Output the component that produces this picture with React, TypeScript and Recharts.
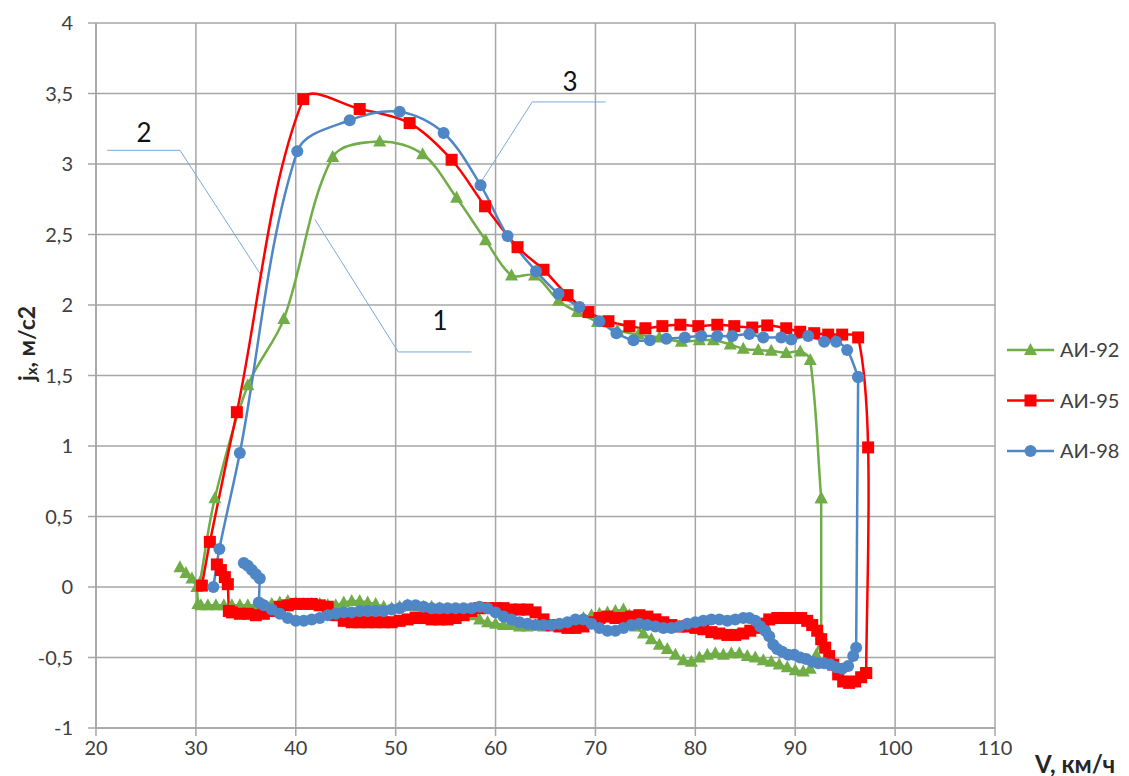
import React from 'react';
import {
  LineChart, Line, XAxis, YAxis, CartesianGrid, Legend, ReferenceLine, ReferenceDot, Label,
} from 'recharts';

// [V km/h, jx m/s2]
// acceleration branch (sparse points, smoothed)
const ai92Up: [number, number][] = [
  [30.4, 0.03], [31.9, 0.63], [35.2, 1.43], [38.8, 1.9], [43.7, 3.05], [48.4, 3.16], [52.7, 3.07],
  [56.1, 2.76], [59.0, 2.46], [61.6, 2.21], [63.9, 2.21], [66.3, 2.03], [68.2, 1.95], [70.2, 1.88],
  [72.2, 1.82], [74.3, 1.79], [76.4, 1.77], [78.6, 1.74], [80.4, 1.75], [81.8, 1.75], [83.5, 1.72],
  [84.8, 1.69], [86.3, 1.68], [87.6, 1.675], [89.1, 1.66], [90.5, 1.67], [91.5, 1.61], [92.6, 0.63],
];
const ai95Up: [number, number][] = [
  [30.6, 0.01], [31.4, 0.32], [34.1, 1.24], [40.75, 3.46], [46.4, 3.39], [51.4, 3.29], [55.6, 3.03],
  [58.95, 2.7], [62.2, 2.41], [64.8, 2.25], [67.2, 2.07], [69.3, 1.95], [71.3, 1.885], [73.4, 1.85],
  [75.0, 1.835], [76.7, 1.85], [78.5, 1.86], [80.3, 1.85], [82.2, 1.86], [83.9, 1.85], [85.7, 1.84],
  [87.2, 1.855], [89.1, 1.835], [90.5, 1.81], [91.9, 1.8], [93.3, 1.79], [94.7, 1.79], [96.3, 1.77],
  [97.3, 0.99], [97.1, -0.61],
];
const ai98Up: [number, number][] = [
  [31.75, 0.0], [32.35, 0.27], [34.4, 0.95], [40.15, 3.09], [45.4, 3.31], [50.4, 3.37], [54.8, 3.22],
  [58.5, 2.85], [61.2, 2.49], [64.05, 2.24], [66.3, 2.08], [68.4, 1.985], [70.4, 1.885], [72.1, 1.8],
  [73.8, 1.75], [75.45, 1.75], [77.1, 1.76], [78.95, 1.77], [80.6, 1.78], [82.2, 1.78], [83.7, 1.78],
  [85.4, 1.795], [86.8, 1.77], [88.6, 1.77], [89.6, 1.755], [91.3, 1.78], [92.9, 1.74], [94.1, 1.74],
  [95.2, 1.68], [96.3, 1.49],
];

// coasting branch (dense points, right to left)
const ai92Down: [number, number][] = [
  [92.6, 0.63], [92.6, -0.34], [92.1, -0.48], [91.5, -0.58], [90.8, -0.6], [90.0, -0.59], [89.2, -0.57],
  [88.4, -0.55], [87.6, -0.53], [86.8, -0.52], [86.0, -0.5], [85.2, -0.49], [84.4, -0.47], [83.6, -0.47],
  [82.8, -0.48], [82.0, -0.47], [81.2, -0.48], [80.4, -0.5], [79.6, -0.53], [78.8, -0.52], [78.0, -0.48],
  [77.2, -0.44], [76.4, -0.41], [75.6, -0.37], [74.8, -0.33], [74.0, -0.28], [73.4, -0.2], [72.8, -0.16],
  [72.0, -0.17], [71.2, -0.18], [70.4, -0.19], [69.6, -0.2], [68.8, -0.22], [68.0, -0.24], [67.2, -0.26],
  [66.4, -0.27], [65.6, -0.28], [64.8, -0.28], [64.0, -0.27], [63.2, -0.28], [62.4, -0.28], [61.6, -0.27],
  [60.8, -0.27], [60.0, -0.26], [59.2, -0.25], [58.4, -0.23], [57.6, -0.2], [56.8, -0.18], [56.0, -0.17],
  [55.2, -0.16], [54.4, -0.15], [53.6, -0.14], [52.8, -0.14], [52.0, -0.14], [51.2, -0.13], [50.4, -0.14],
  [49.6, -0.15], [48.8, -0.14], [48.0, -0.12], [47.2, -0.11], [46.4, -0.1], [45.6, -0.1], [44.8, -0.11],
  [44.0, -0.13], [43.2, -0.13], [42.4, -0.12], [41.6, -0.12], [40.8, -0.12], [40.0, -0.11], [39.2, -0.1],
  [38.4, -0.11], [37.6, -0.12], [36.8, -0.13], [36.0, -0.13], [35.2, -0.13], [34.4, -0.13], [33.6, -0.13],
  [32.8, -0.13], [32.0, -0.13], [31.2, -0.13], [30.5, -0.13], [30.2, -0.12], [30.1, 0.0], [29.6, 0.06],
  [29.0, 0.1], [28.4, 0.14],
];
const ai95Down: [number, number][] = [
  [97.1, -0.61], [96.6, -0.64], [96.0, -0.67], [95.4, -0.68], [94.8, -0.67], [94.3, -0.62], [93.8, -0.55],
  [93.4, -0.49], [93.0, -0.43], [92.6, -0.37], [92.2, -0.31], [91.7, -0.27], [91.2, -0.24], [90.6, -0.22],
  [89.8, -0.22], [89.0, -0.22], [88.2, -0.22], [87.4, -0.23], [86.8, -0.26], [86.2, -0.29], [85.5, -0.31],
  [84.8, -0.33], [84.0, -0.34], [83.2, -0.34], [82.4, -0.33], [81.6, -0.32], [80.8, -0.3], [80.0, -0.29],
  [79.2, -0.28], [78.4, -0.28], [77.6, -0.27], [76.8, -0.25], [76.0, -0.23], [75.2, -0.21], [74.4, -0.2],
  [73.6, -0.21], [72.8, -0.22], [72.0, -0.22], [71.2, -0.21], [70.4, -0.22], [69.6, -0.25], [68.8, -0.28],
  [68.0, -0.29], [67.2, -0.29], [66.4, -0.28], [65.6, -0.27], [64.8, -0.23], [64.0, -0.18], [63.2, -0.16],
  [62.4, -0.16], [61.6, -0.16], [60.8, -0.15], [60.0, -0.15], [59.2, -0.15], [58.4, -0.15], [57.6, -0.17],
  [56.8, -0.2], [56.0, -0.22], [55.2, -0.23], [54.4, -0.23], [53.6, -0.23], [52.8, -0.22], [52.0, -0.22],
  [51.2, -0.23], [50.4, -0.24], [49.6, -0.25], [48.8, -0.25], [48.0, -0.25], [47.2, -0.25], [46.4, -0.25],
  [45.6, -0.25], [44.8, -0.24], [44.0, -0.2], [43.2, -0.14], [42.4, -0.13], [41.6, -0.12], [40.8, -0.12],
  [40.0, -0.12], [39.2, -0.13], [38.4, -0.14], [37.6, -0.17], [36.8, -0.19], [36.0, -0.2], [35.2, -0.19],
  [34.4, -0.19], [33.6, -0.18], [33.3, -0.17], [33.2, 0.02], [32.9, 0.07], [32.5, 0.12], [32.1, 0.16],
];
const ai98Down: [number, number][] = [
  [96.3, 1.49], [96.1, -0.43], [95.8, -0.49], [95.3, -0.56], [94.7, -0.58], [94.1, -0.57], [93.5, -0.55],
  [92.9, -0.54], [92.3, -0.54], [91.7, -0.53], [91.1, -0.51], [90.5, -0.5], [89.9, -0.48], [89.3, -0.48],
  [88.7, -0.46], [88.2, -0.44], [87.8, -0.41], [87.4, -0.35], [87.0, -0.31], [86.5, -0.28], [86.0, -0.24],
  [85.4, -0.22], [84.8, -0.22], [84.0, -0.23], [83.2, -0.24], [82.4, -0.23], [81.6, -0.23], [80.8, -0.24],
  [80.0, -0.25], [79.2, -0.26], [78.4, -0.28], [77.6, -0.29], [76.8, -0.29], [76.0, -0.28], [75.2, -0.27],
  [74.4, -0.26], [73.6, -0.27], [72.8, -0.29], [72.0, -0.31], [71.2, -0.31], [70.4, -0.29], [69.6, -0.26],
  [68.8, -0.23], [68.0, -0.23], [67.2, -0.25], [66.4, -0.26], [65.6, -0.27], [64.8, -0.27], [64.0, -0.27],
  [63.2, -0.26], [62.4, -0.25], [61.6, -0.23], [60.8, -0.21], [60.0, -0.18], [59.2, -0.15], [58.4, -0.14],
  [57.6, -0.15], [56.8, -0.15], [56.0, -0.15], [55.2, -0.15], [54.4, -0.15], [53.6, -0.15], [52.8, -0.14],
  [52.0, -0.13], [51.2, -0.13], [50.4, -0.15], [49.6, -0.16], [48.8, -0.17], [48.0, -0.17], [47.2, -0.17],
  [46.4, -0.17], [45.6, -0.18], [44.8, -0.18], [44.0, -0.19], [43.2, -0.2], [42.4, -0.22], [41.6, -0.23],
  [40.8, -0.24], [40.0, -0.24], [39.2, -0.22], [38.4, -0.19], [37.6, -0.16], [36.8, -0.13], [36.3, -0.11],
  [36.4, 0.06], [36.0, 0.09], [35.6, 0.12], [35.2, 0.15], [34.8, 0.17],
];

const xTicks = [20, 30, 40, 50, 60, 70, 80, 90, 100, 110];
const yTicks = [-1, -0.5, 0, 0.5, 1, 1.5, 2, 2.5, 3, 3.5, 4];

// callout numbers and their leader lines
const callouts = [
  { text: '1', at: [54.45, 1.89], leader: [[57.6, 1.667], [50.26, 1.667], [41.92, 2.606]] },
  { text: '2', at: [24.8, 3.22], leader: [[21.13, 3.097], [28.41, 3.097], [36.75, 2.187]] },
  { text: '3', at: [67.45, 3.58], leader: [[71.02, 3.44], [63.67, 3.44], [58.44, 2.861]] },
];

type Shape = 'triangle' | 'square' | 'circle';

const series: { name: string; color: string; shape: Shape; up: [number, number][]; down: [number, number][] }[] = [
  { name: 'АИ-92', color: '#70ad47', shape: 'triangle', up: ai92Up, down: ai92Down },
  { name: 'АИ-95', color: '#ff0000', shape: 'square', up: ai95Up, down: ai95Down },
  { name: 'АИ-98', color: '#4f86c6', shape: 'circle', up: ai98Up, down: ai98Down },
];

const toRows = (pts: [number, number][]) => pts.map(([v, j]) => ({ v, j }));

// Excel-like smoothed line: Catmull-Rom tangents scaled by neighbouring chord lengths
const excelSmooth = (context: any) => {
  let pts: number[][] = [];
  const dist = (a: number[], b: number[]) => Math.hypot(b[0] - a[0], b[1] - a[1]);
  return {
    areaStart() {},
    areaEnd() {},
    lineStart() { pts = []; },
    point(x: number, y: number) { pts.push([+x, +y]); },
    lineEnd() {
      const n = pts.length;
      if (!n) return;
      context.moveTo(pts[0][0], pts[0][1]);
      for (let i = 0; i < n - 1; i++) {
        const p0 = pts[i - 1] || pts[i];
        const p1 = pts[i];
        const p2 = pts[i + 1];
        const p3 = pts[i + 2] || pts[i + 1];
        const d01 = dist(p0, p1);
        const d12 = dist(p1, p2);
        const d23 = dist(p2, p3);
        const k1 = d01 + d12 > 0 ? d12 / (d01 + d12) / 3 : 0;
        const k2 = d12 + d23 > 0 ? d12 / (d12 + d23) / 3 : 0;
        context.bezierCurveTo(
          p1[0] + (p2[0] - p0[0]) * k1, p1[1] + (p2[1] - p0[1]) * k1,
          p2[0] - (p3[0] - p1[0]) * k2, p2[1] - (p3[1] - p1[1]) * k2,
          p2[0], p2[1],
        );
      }
    },
  };
};

const marker = (shape: Shape, cx: number, cy: number, color: string, key?: string | number) => {
  if (shape === 'triangle') {
    return <polygon key={key} points={`${cx},${cy - 7} ${cx + 6.5},${cy + 5} ${cx - 6.5},${cy + 5}`} fill={color} />;
  }
  if (shape === 'square') {
    return <rect key={key} x={cx - 6} y={cy - 6} width={12} height={12} fill={color} />;
  }
  return <circle key={key} cx={cx} cy={cy} r={6} fill={color} />;
};

const makeDot = (shape: Shape, color: string) => (props: any) => {
  const { cx, cy, index } = props;
  if (cx == null || cy == null) return <g key={`e-${index}`} />;
  return marker(shape, cx, cy, color, `d-${index}`);
};

const gridColor = '#a6a6a6';
const textColor = '#404040';
const font = 'Lato, "Open Sans", sans-serif';

const renderLegend = () => (
  <svg width={130} height={150}>
    {series.map((s, i) => (
      <g key={s.name} transform={`translate(0, ${i * 50.5})`}>
        <line x1={2} y1={15} x2={49} y2={15} stroke={s.color} strokeWidth={2.5} />
        {marker(s.shape, 25.5, 15, s.color)}
        <text x={55} y={15} dy="0.35em" fontSize={20} fill={textColor} fontFamily={font}>{s.name}</text>
      </g>
    ))}
  </svg>
);

const YTitle = (props: any) => {
  const { viewBox } = props;
  const x = viewBox.x + 26;
  const y = viewBox.y + viewBox.height / 2 - 32;
  return (
    <text x={x} y={y} transform={`rotate(-90, ${x}, ${y})`} textAnchor="middle" dominantBaseline="central"
      fontSize={23} fontWeight="bold" fill="#262626" fontFamily={font}>
      j<tspan dy={5} fontSize={15}>x</tspan><tspan dy={-5}>, м/с2</tspan>
    </text>
  );
};

const XTitle = (props: any) => {
  const { viewBox } = props;
  return (
    <text x={viewBox.x + viewBox.width + 40} y={viewBox.y + 35} dominantBaseline="central"
      fontSize={24} fontWeight="bold" fill="#262626" fontFamily={font}>
      V, км/ч
    </text>
  );
};

export default function App() {
  return (
    <div style={{ position: 'absolute', left: 0, top: 0, width: 1129, height: 776, background: '#fff' }}>
      <LineChart width={1129} height={776} margin={{ top: 23, right: 134, bottom: 8, left: 0 }} style={{ fontFamily: font }}>
        <CartesianGrid stroke={gridColor} strokeWidth={1.5} />
        <XAxis
          type="number" dataKey="v" domain={[20, 110]} ticks={xTicks} interval={0} height={40}
          axisLine={{ stroke: gridColor, strokeWidth: 1.5 }} tickLine={{ stroke: gridColor, strokeWidth: 1.5 }}
          tickSize={8} tickMargin={5} tick={{ fill: textColor, fontSize: 20, fontFamily: font }}
        >
          <Label content={XTitle} />
        </XAxis>
        <YAxis
          type="number" domain={[-1, 4]} ticks={yTicks} interval={0} width={96}
          axisLine={{ stroke: gridColor, strokeWidth: 1.5 }} tickLine={{ stroke: gridColor, strokeWidth: 1.5 }}
          tickSize={8} tickMargin={15} tick={{ fill: textColor, fontSize: 20, fontFamily: font }}
          tickFormatter={(v: number) => String(v).replace('.', ',')}
        >
          <Label content={YTitle} />
        </YAxis>

        {callouts.map((c) => [
          <ReferenceLine key={`${c.text}-a`} segment={[{ x: c.leader[0][0], y: c.leader[0][1] }, { x: c.leader[1][0], y: c.leader[1][1] }]}
            stroke="#7aa9dc" strokeWidth={1} ifOverflow="visible" />,
          <ReferenceLine key={`${c.text}-b`} segment={[{ x: c.leader[1][0], y: c.leader[1][1] }, { x: c.leader[2][0], y: c.leader[2][1] }]}
            stroke="#7aa9dc" strokeWidth={1} ifOverflow="visible" />,
          <ReferenceDot key={`${c.text}-t`} x={c.at[0]} y={c.at[1]} r={0} stroke="none" fill="none" ifOverflow="visible"
            label={{ value: c.text, position: 'center', fontSize: 26, fill: '#111', fontFamily: font }} />,
        ])}

        {series.map((s) => [
          <Line key={`${s.name}-up`} name={s.name} data={toRows(s.up)} dataKey="j" type={excelSmooth as any}
            stroke={s.color} strokeWidth={2.5} dot={makeDot(s.shape, s.color)} activeDot={false}
            isAnimationActive={false} legendType="none" />,
          <Line key={`${s.name}-down`} name={`${s.name} `} data={toRows(s.down)} dataKey="j" type="linear"
            stroke={s.color} strokeWidth={2.5} dot={makeDot(s.shape, s.color)} activeDot={false}
            isAnimationActive={false} legendType="none" />,
        ])}

        <Legend layout="horizontal" verticalAlign="middle" align="center" width={130} height={150}
          wrapperStyle={{ left: 1005, top: 335 }} content={renderLegend} />
      </LineChart>
    </div>
  );
}
